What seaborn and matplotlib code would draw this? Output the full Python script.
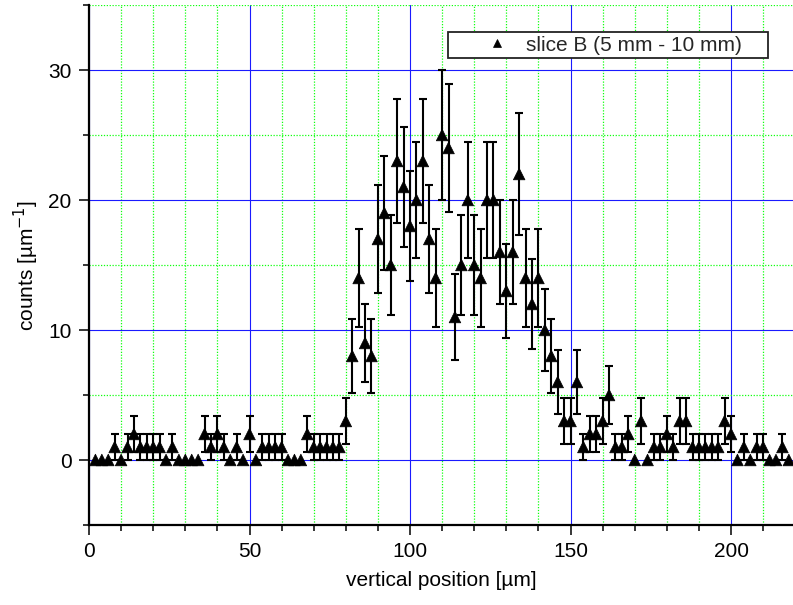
import numpy as np
import pandas as pd
import matplotlib
matplotlib.use("Agg")
import matplotlib.pyplot as plt
import seaborn as sns
from matplotlib.ticker import MultipleLocator
from matplotlib.patches import Rectangle

# vertical position of each bin [µm]
position = list(range(2, 220, 2))

# counts per bin
counts = [
    0, 0, 0, 1, 0, 1, 2, 1, 1, 1,
    1, 0, 1, 0, 0, 0, 0, 2, 1, 2,
    1, 0, 1, 0, 2, 0, 1, 1, 1, 1,
    0, 0, 0, 2, 1, 1, 1, 1, 1, 3,
    8, 14, 9, 8, 17, 19, 15, 23, 21, 18,
    20, 23, 17, 14, 25, 24, 11, 15, 20, 15,
    14, 20, 20, 16, 13, 16, 22, 14, 12, 14,
    10, 8, 6, 3, 3, 6, 1, 2, 2, 3,
    5, 1, 1, 2, 0, 3, 0, 1, 1, 2,
    1, 3, 3, 1, 1, 1, 1, 1, 3, 2,
    0, 1, 0, 1, 1, 0, 0, 1, 0,
]

series_label = "slice B (5 mm - 10 mm)"

df = pd.DataFrame({"position": position, "counts": counts})
df["err"] = np.sqrt(df["counts"])
df["series"] = series_label

sns.set_theme(style="white")
plt.rcParams["font.family"] = ["Liberation Sans", "DejaVu Sans"]

fig = plt.figure(figsize=(7.93, 6.05), dpi=100)
ax = fig.add_axes([89 / 793, 80 / 605, 1 - 89 / 793, 520 / 605])

ax.set_xlim(0, 219.3)
ax.set_ylim(-5, 35)

ax.xaxis.set_major_locator(MultipleLocator(50))
ax.xaxis.set_minor_locator(MultipleLocator(10))
ax.yaxis.set_major_locator(MultipleLocator(10))
ax.yaxis.set_minor_locator(MultipleLocator(5))

ax.grid(which="major", color="#1a1aff", lw=0.8, ls="-", zorder=0)
ax.grid(which="minor", color="#11ff11", lw=0.9, ls=(0, (1, 1.3)), zorder=0)
ax.set_axisbelow(True)

# Poisson error bars; empty bins carry none
nz = df[df["counts"] > 0]
ax.errorbar(nz["position"], nz["counts"], yerr=nz["err"], fmt="none",
            ecolor="black", elinewidth=1.5, capsize=3, capthick=1.5, zorder=2)

sns.scatterplot(data=df, x="position", y="counts", hue="series",
                palette=["black"], marker="^", s=70, edgecolor="black",
                linewidth=0.5, ax=ax, zorder=3)

for side in ["top", "right"]:
    ax.spines[side].set_visible(False)
for side in ["left", "bottom"]:
    ax.spines[side].set_color("black")
    ax.spines[side].set_linewidth(1.6)

ax.tick_params(which="major", direction="out", length=7.5, width=1.1,
               color="black", left=True, bottom=True)
ax.tick_params(which="minor", direction="out", length=4.5, width=1.1,
               color="black", left=True, bottom=True)
ax.tick_params(which="major", labelsize=15, pad=5, labelcolor="black")

ax.set_xlabel("vertical position [µm]", fontsize=15, labelpad=7, color="black")
ax.set_ylabel("counts [µm$^{-1}$]", fontsize=15, labelpad=5, color="black")

# legend entry without its own frame, boxed by a wider white rectangle
leg = ax.legend(loc="center left", bbox_to_anchor=(0.5648, 0.923),
                borderaxespad=0, fontsize=15, frameon=False,
                borderpad=0, handlelength=1.0, handletextpad=0.9,
                markerscale=0.75)
leg.set_zorder(6)
box = Rectangle((0.51, 0.898), 0.4545, 0.05, transform=ax.transAxes,
                facecolor="white", edgecolor="#222222", lw=1.3, zorder=5)
ax.add_patch(box)

fig.savefig("out.png", dpi=100)
